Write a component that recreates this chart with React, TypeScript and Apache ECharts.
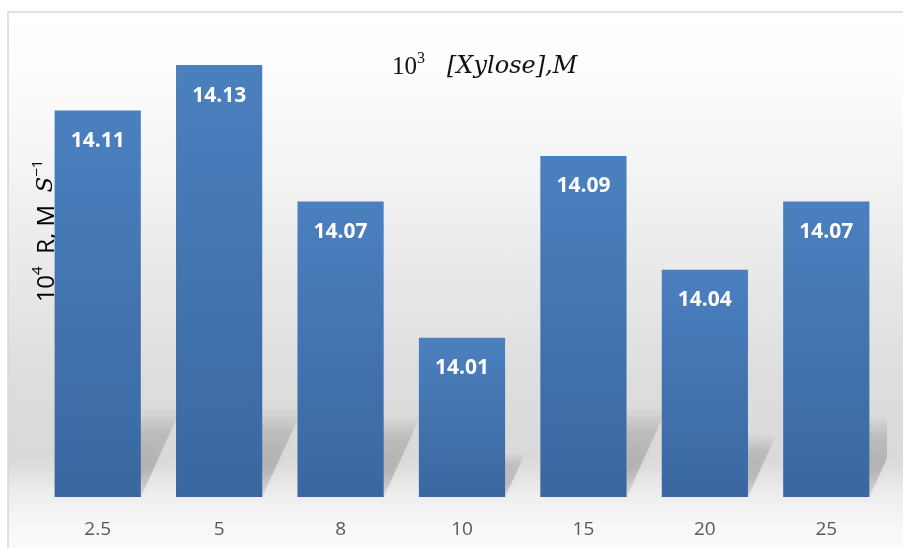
import React, { useEffect, useRef } from "react";
import * as echarts from "echarts";

const categories = ["2.5", "5", "8", "10", "15", "20", "25"];
const rates = [14.11, 14.13, 14.07, 14.01, 14.09, 14.04, 14.07];
const yMin = 13.94;
const yMax = 14.13;

export default function App() {
  const ref = useRef<HTMLDivElement>(null);
  useEffect(() => {
    if (!ref.current) return;
    const chart = echarts.init(ref.current, undefined, { renderer: "svg" });
    const barFrac = 0.71;
    chart.setOption({
      animation: false,
      title: {
        text: "{a|10}{s|3}{sp| }{i|[Xylose],M}",
        left: 387,
        top: 44,
        textStyle: {
          fontWeight: "normal",
          rich: {
            a: { fontFamily: "Liberation Serif", fontWeight: "normal", fontSize: 25, color: "#111", lineHeight: 32 },
            s: { fontFamily: "Liberation Serif", fontWeight: "normal", fontSize: 16, color: "#111", lineHeight: 22, verticalAlign: "top" },
            sp: { fontFamily: "Liberation Serif", fontWeight: "normal", fontSize: 25, lineHeight: 32, width: 22 },
            i: { fontFamily: "DejaVu Serif", fontWeight: "normal", fontStyle: "italic", fontSize: 24, color: "#111", lineHeight: 32 },
          },
        },
      },
      graphic: [
        {
          type: "rect",
          z: -10,
          silent: true,
          shape: { x: 8, y: 12, width: 910, height: 560 },
          style: {
            stroke: "#d6d6d6",
            lineWidth: 1.5,
            fill: {
              type: "linear",
              x: 0, y: 0, x2: 0, y2: 1,
              colorStops: [
                { offset: 0, color: "#ffffff" },
                { offset: 0.1, color: "#fdfdfd" },
                { offset: 0.35, color: "#f0f0f0" },
                { offset: 0.66, color: "#dddddd" },
                { offset: 0.8, color: "#dadada" },
                { offset: 0.86, color: "#ededed" },
                { offset: 0.92, color: "#f8f8f8" },
                { offset: 1, color: "#fcfcfc" },
              ],
            },
          },
        },
        {
          type: "text",
          x: 44,
          y: 231,
          rotation: Math.PI / 2,
          style: {
            text: "{n|10}{s|4}{n|  R, M  }{i|S}{s|−1}",
            align: "center",
            verticalAlign: "middle",
            rich: {
              n: { fontFamily: "Open Sans", fontSize: 24, color: "#111", lineHeight: 32 },
              s: { fontFamily: "Open Sans", fontSize: 15, color: "#111", lineHeight: 22, verticalAlign: "top" },
              i: { fontFamily: "DejaVu Serif", fontStyle: "italic", fontSize: 23, color: "#111", lineHeight: 32 },
            },
          },
        },
      ],
      grid: { left: 37, right: 16, top: 65, bottom: 51, containLabel: false },
      xAxis: {
        type: "category",
        data: categories,
        axisLine: { show: false },
        axisTick: { show: false },
        axisLabel: { color: "#595959", fontFamily: "Open Sans", fontSize: 19, margin: 21 },
      },
      yAxis: {
        type: "value",
        min: yMin,
        max: yMax,
        show: false,
        splitLine: { show: false },
      },
      series: [
        {
          type: "custom",
          silent: true,
          clip: true,
          z: 1,
          data: rates.map((v, i) => [i, v]),
          renderItem: (params: any, api: any) => {
            const idx = api.value(0);
            const v = api.value(1);
            const top = api.coord([idx, v]);
            const base = api.coord([idx, yMin]);
            const band = api.size([1, 0])[0];
            const w = band * barFrac;
            const L = base[0] - w / 2;
            const R = base[0] + w / 2;
            const B = base[1];
            const h = B - top[1];
            const dy = Math.min(h * 0.28, 90);
            const dx = dy / 2.2;
            return {
              type: "polygon",
              shape: { points: [[L, B], [R, B], [R + dx, B - dy], [L + dx, B - dy]] },
              style: {
                fill: new echarts.graphic.LinearGradient(0, 1, 0, 0, [
                  { offset: 0, color: "rgba(0,0,0,0.08)" },
                  { offset: 0.3, color: "rgba(0,0,0,0.17)" },
                  { offset: 0.7, color: "rgba(0,0,0,0.13)" },
                  { offset: 1, color: "rgba(0,0,0,0)" },
                ]),
                shadowBlur: 6,
                shadowColor: "rgba(0,0,0,0.15)",
              },
            };
          },
        },
        {
          type: "bar",
          z: 3,
          data: rates,
          barWidth: "71%",
          itemStyle: {
            color: new echarts.graphic.LinearGradient(0, 0, 0, 1, [
              { offset: 0, color: "#4b80bf" },
              { offset: 1, color: "#3a67a0" },
            ]),
          },
          label: {
            show: true,
            position: "insideTop",
            distance: 18,
            color: "#ffffff",
            fontFamily: "Open Sans",
            fontWeight: "bold",
            fontSize: 21,
            formatter: (p: any) => p.value.toFixed(2),
          },
        },
      ],
    });
    return () => chart.dispose();
  }, []);
  return (
    <div
      ref={ref}
      style={{ position: "fixed", left: 0, top: 0, width: 903, height: 548 }}
    />
  );
}
